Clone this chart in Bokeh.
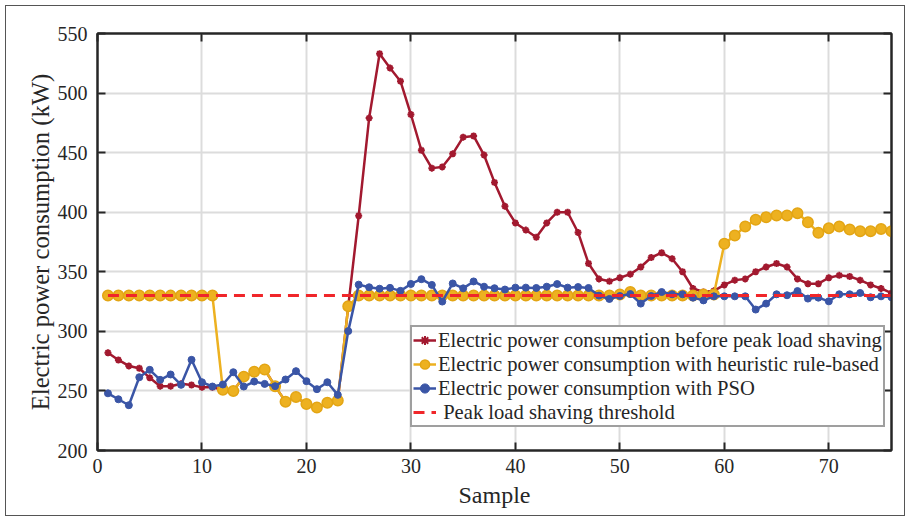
from bokeh.plotting import figure
from bokeh.models import (Range1d, FixedTicker, LinearAxis, Legend, LegendItem,
                          CustomLabelingPolicy)
from bokeh.embed import file_html
from bokeh.resources import INLINE

samples = list(range(1, 77))

before = [282, 276, 271, 269, 261, 254, 254, 256, 255, 253, 253,
          251, 250, 262, 266, 268, 254, 241, 245, 239, 236, 240, 242, 321,
          397, 479, 533, 521, 510, 482, 452, 437, 438, 449, 463, 464, 448,
          425, 405, 391, 385, 379, 391, 400, 400, 383, 357, 344, 342, 345,
          348, 354, 362, 366, 361, 350, 336, 333, 334, 339, 343, 344, 350,
          354, 357, 354, 344, 340, 340, 345, 347, 346, 343, 339, 336, 332]

heuristic = [330, 330, 330, 330, 330, 330, 330, 330, 330, 330, 330,
             251, 250, 262, 266, 268, 254, 241, 245, 239, 236, 240, 242, 321,
             330, 330, 330, 330, 330, 330, 330, 330, 330, 330, 330, 330, 330,
             330, 330, 330, 330, 330, 330, 330, 330, 330, 330, 330, 330, 331,
             333, 330, 330, 330, 330, 330, 330, 331, 331, 373.5, 380.5, 388, 393.6,
             395.8, 397.2, 397.2, 399.2, 391.6, 382.7, 386.6, 388, 385.5, 384.1, 384.1, 386, 384.1]

pso = [248, 243, 238, 261.5, 267.7, 259.3, 263.8, 255.1, 276.1, 257.3, 253.7,
       255.4, 265.7, 253.7, 257.9, 255.9, 254, 259.6, 266.6, 258.2, 251.5, 257.3, 246.7, 300.2,
       339.2, 337, 335.8, 336.5, 334, 339.8, 343.8, 339, 325, 340.2, 336.1, 341.9, 337.5,
       336.2, 335.1, 336.7, 336.7, 336.4, 337.5, 339.7, 336.7, 337.2, 336.4, 330, 327.2, 329.7,
       331.3, 323.3, 329.7, 333, 331.1, 331.1, 328.3, 326, 329.4, 329.4, 329.4, 329.4, 318.3,
       323.3, 331.1, 330.3, 333.8, 327.5, 328.3, 325.2, 331.1, 331.1, 332.2, 328.6, 329.4, 328.6]

threshold_value = 330
threshold = [threshold_value for _ in samples]

x_ticks = [0, 10, 20, 30, 40, 50, 60, 70]
y_ticks = [200, 250, 300, 350, 400, 450, 500, 550]

labels = ["Electric power consumption before peak load shaving",
          "Electric power consumption with heuristic rule-based",
          "Electric power consumption with PSO",
          " Peak load shaving threshold"]

FONT = "Liberation Serif"
TXT = "#262626"
RED = "#A2192F"
YEL = "#EDB120"
BLU = "#3A55A6"
THR = "#F0262A"

p = figure(width=898, height=509, output_backend="svg", toolbar_location=None,
           x_range=Range1d(0, 76), y_range=Range1d(200, 550),
           min_border_left=91, min_border_right=13, min_border_top=27, min_border_bottom=65,
           background_fill_color="white", border_fill_color="white")

p.outline_line_color = TXT
p.outline_line_width = 2

for ax in (p.xaxis[0], p.yaxis[0]):
    ax.axis_line_color = TXT
    ax.axis_line_width = 2
    ax.major_tick_line_color = TXT
    ax.major_tick_line_width = 2
    ax.major_tick_in = 8
    ax.major_tick_out = 0
    ax.minor_tick_line_color = None
    ax.major_label_text_font = FONT
    ax.major_label_text_font_size = "20px"
    ax.major_label_text_color = TXT
    ax.axis_label_text_font = FONT
    ax.axis_label_text_font_style = "normal"
    ax.axis_label_text_color = TXT

p.xaxis[0].ticker = FixedTicker(ticks=x_ticks)
p.yaxis[0].ticker = FixedTicker(ticks=y_ticks)
p.xaxis[0].axis_label = "Sample"
p.yaxis[0].axis_label = "Electric power consumption (kW)"
p.xaxis[0].axis_label_text_font_size = "24px"
p.yaxis[0].axis_label_text_font_size = "24.7px"
p.xaxis[0].major_label_standoff = 8
p.xaxis[0].axis_label_standoff = 6
p.yaxis[0].major_label_standoff = 10
p.yaxis[0].axis_label_standoff = 1

no_labels = CustomLabelingPolicy(code="for (const i of indices) { indices.unset(i) }")

top = LinearAxis(ticker=FixedTicker(ticks=x_ticks))
right = LinearAxis(ticker=FixedTicker(ticks=y_ticks))
for ax in (top, right):
    ax.axis_line_color = TXT
    ax.axis_line_width = 2
    ax.major_tick_line_color = TXT
    ax.major_tick_line_width = 2
    ax.major_tick_in = 8
    ax.major_tick_out = 0
    ax.minor_tick_line_color = None
    ax.major_label_policy = no_labels
    ax.major_label_text_font_size = "1px"
    ax.major_label_standoff = 0
    ax.axis_label_standoff = 0
p.add_layout(top, "above")
p.add_layout(right, "right")

p.grid.grid_line_color = "#DCDCDC"
p.grid.grid_line_width = 2
p.xgrid.ticker = FixedTicker(ticks=x_ticks)
p.ygrid.ticker = FixedTicker(ticks=y_ticks)

r_line = p.line(samples, before, line_color=RED, line_width=2.5)
r_mark = p.scatter(samples, before, marker="asterisk", size=7, line_color=RED, line_width=2)

y_line = p.line(samples, heuristic, line_color=YEL, line_width=2.5)
y_mark = p.scatter(samples, heuristic, marker="circle", size=10.5, fill_color=YEL,
                   line_color="#E3A514", line_width=1.5)

b_line = p.line(samples, pso, line_color=BLU, line_width=2.5)
b_mark = p.scatter(samples, pso, marker="circle", size=7, fill_color=BLU, line_color=BLU)

t_line = p.line(samples, threshold, line_color=THR, line_width=3, line_dash="11 7")

legend = Legend(items=[
    LegendItem(label=labels[0], renderers=[r_line, r_mark]),
    LegendItem(label=labels[1], renderers=[y_line, y_mark]),
    LegendItem(label=labels[2], renderers=[b_line, b_mark]),
    LegendItem(label=labels[3], renderers=[t_line]),
], location=(313, 23))
legend.margin = 0
legend.padding = 1
legend.spacing = 0
legend.glyph_width = 23
legend.glyph_height = 24
legend.label_height = 24
legend.label_standoff = 2
legend.label_text_font = FONT
legend.label_text_font_size = "20.6px"
legend.label_text_color = TXT
legend.border_line_color = "#404040"
legend.border_line_width = 2
legend.background_fill_color = "white"
legend.background_fill_alpha = 1
p.add_layout(legend, "center")

p.styles = {"margin-left": "6px", "margin-top": "6px",
            "outline": "1px solid #555555", "outline-offset": "0px"}

open("out.html", "w").write(file_html(p, INLINE))
